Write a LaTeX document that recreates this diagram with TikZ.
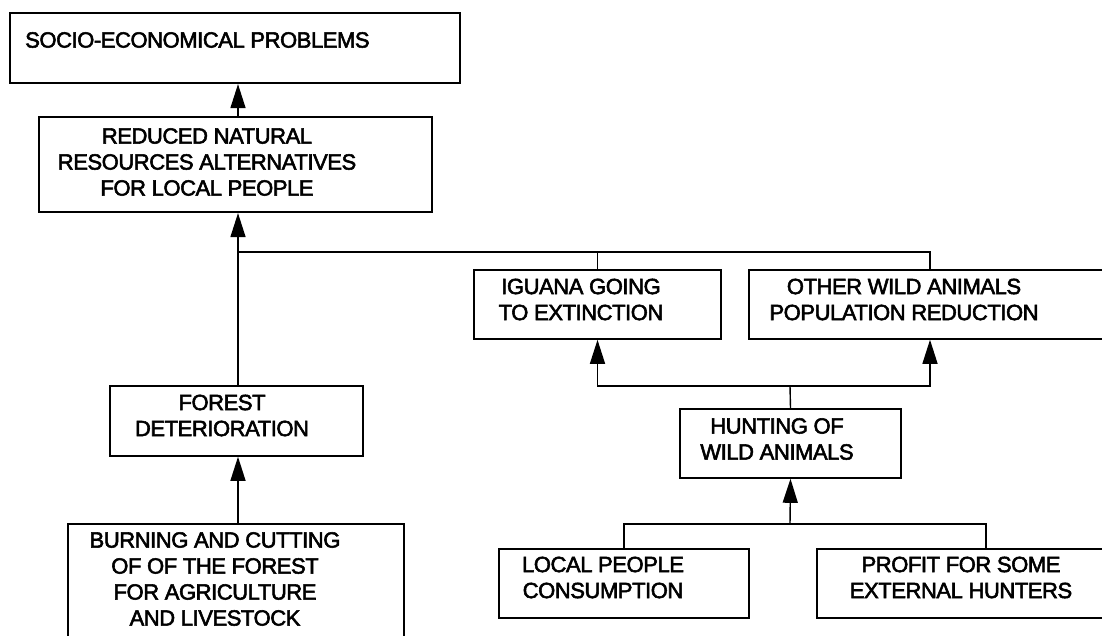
\documentclass[tikz,border=0pt]{standalone}
\usepackage{fontspec}
\setmainfont{Liberation Sans}
\newfontfamily\heavysans[FakeBold=2.5,LetterSpace=-2]{Liberation Sans}
\usetikzlibrary{arrows.meta,calc}
\begin{document}
\begin{tikzpicture}[x=1pt,y=-1pt,
  box/.style={draw=black,line width=1.6pt,rectangle,inner sep=0pt},
  thick box/.style={box,line width=2.2pt},
  lbl/.style={font=\heavysans\fontsize{22}{26}\selectfont,align=center,inner sep=0pt},
  conn/.style={draw=black,line width=1.4pt},
  arr/.style={conn,-{Triangle[length=24pt,width=15pt]}}]
\useasboundingbox (0,0) rectangle (1102,635);
\clip (0,0) rectangle (1102,635);
% boxes
\node[thick box,minimum width=450pt,minimum height=70pt] (b1) at (235,48) {};
\node[thick box,minimum width=393pt,minimum height=95pt] (b2) at (235.5,164.5) {};
\node[box,minimum width=253pt,minimum height=70pt] (b3) at (236.5,421) {};
\node[box,minimum width=336pt,minimum height=136pt] (b4) at (236,592) {};
\node[box,minimum width=247pt,minimum height=69pt] (b5) at (597.5,304.5) {};
\node[box,minimum width=371pt,minimum height=69pt] (b6) at (934.5,304.5) {};
\node[box,minimum width=221pt,minimum height=69pt] (b7) at (790.5,443.5) {};
\node[box,minimum width=250pt,minimum height=69pt] (b8) at (624,583.5) {};
\node[box,minimum width=303pt,minimum height=69pt] (b9) at (968.5,583.5) {};
% texts
\node[lbl,anchor=west] (t1) at (25,40) {SOCIO-ECONOMICAL PROBLEMS};
\node[lbl] (t2) at (207,162) {REDUCED NATURAL\\RESOURCES ALTERNATIVES\\FOR LOCAL PEOPLE};
\node[lbl] (t3) at (222,415.5) {FOREST\\DETERIORATION};
\node[lbl] (t4) at (215,579) {BURNING AND CUTTING\\OF OF THE FOREST\\FOR AGRICULTURE\\AND LIVESTOCK};
\node[lbl] (t5) at (581,299.5) {IGUANA GOING\\TO EXTINCTION};
\node[lbl] (t6) at (904,299.5) {OTHER WILD ANIMALS\\POPULATION REDUCTION};
\node[lbl] (t7) at (777,439) {HUNTING OF\\WILD ANIMALS};
\node[lbl] (t8) at (603,577.5) {LOCAL PEOPLE\\CONSUMPTION};
\node[lbl] (t9) at (961,577.5) {PROFIT FOR SOME\\EXTERNAL HUNTERS};
% helper coordinates
\coordinate (vx) at (238,0);
\coordinate (ox) at (930,0);
\coordinate (px) at (986,0);
\coordinate (j1) at (238,252);
\coordinate (j2) at (790,386);
\coordinate (j3) at (790,524);
% connectors
\draw[arr] (vx |- b2.north) -- (vx |- b1.south);
\draw[arr] (vx |- b3.north) -- (vx |- b2.south);
\draw[arr] (vx |- b4.north) -- (vx |- b3.south);
\draw[conn] (j1) -| (b5.north);
\draw[conn] (j1) -- (ox |- j1) -- (ox |- b6.north);
\draw[conn] (b7.north) -- (j2);
\draw[arr] (j2) -| (b5.south);
\draw[arr] (j2) -| (ox |- b6.south);
\draw[arr] (j3) -- (b7.south);
\draw[conn] (b8.north) |- (j3);
\draw[conn] (px |- b9.north) |- (j3);
\end{tikzpicture}
\end{document}
